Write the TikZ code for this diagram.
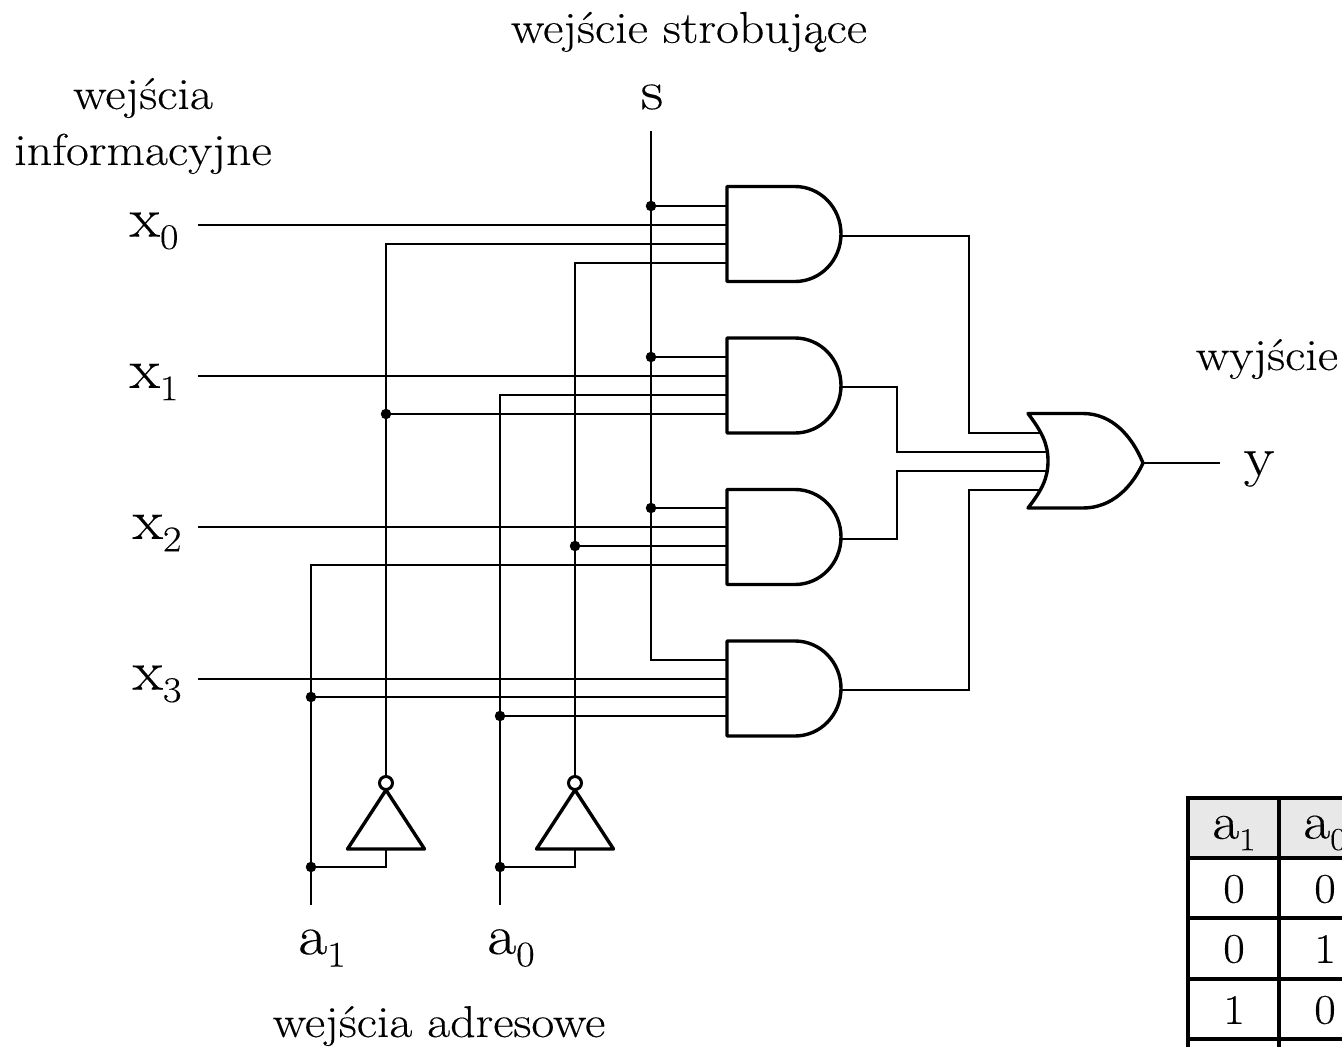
\documentclass[tikz,border=0pt]{standalone}
\usepackage{fontspec}
\setmainfont{Latin Modern Roman}[FakeStretch=1.12,FakeBold=0.25]
\usetikzlibrary{calc}
\newcommand{\subs}[2]{\raisebox{-0.22em}{\fontsize{#1}{#1}\selectfont #2}}
\tikzset{
  wire/.style={line width=2.2pt,line join=miter},
  gate/.style={draw,line width=3.4pt,line join=round,fill=white},
  jdot/.style={circle,fill=black,inner sep=0pt,minimum size=10.5pt},
  bubble/.style={circle,draw,line width=3pt,fill=white,inner sep=0pt,minimum size=13pt},
  lab/.style={inner sep=0pt,font=\fontsize{44.5}{56}\selectfont,align=center},
  sig/.style={inner sep=0pt,font=\fontsize{56}{60}\selectfont},
  head/.style={inner sep=0pt,font=\fontsize{52}{56}\selectfont},
  cell/.style={inner sep=0pt,font=\fontsize{42}{46}\selectfont},
  tab/.style={line width=3.4pt},
}
\newcommand{\inverter}[2]{%
  \path[gate] (#1,790) -- (#1-38.5,849) -- (#1+38.5,849) -- cycle;
  \node[bubble] (#2t) at (#1,783) {};
}
\begin{document}
\begin{tikzpicture}[x=1pt,y=-1pt]
\useasboundingbox (0,0) rectangle (1342,1047);
\clip (0,0) rectangle (1342,1047);
% signal labels
\node[sig] (x0) at (154,231) {x\subs{36}{0}};
\node[sig] (x1) at (154,382) {x\subs{36}{1}};
\node[sig] (x2) at (157,533) {x\subs{36}{2}};
\node[sig] (x3) at (157,684) {x\subs{36}{3}};
\node[sig] (s) at (652,97) {s};
\node[sig] (y) at (1259,469) {y};
\node[sig] (a1) at (322,948) {a\subs{36}{1}};
\node[sig] (a0) at (511,948) {a\subs{36}{0}};
\node[lab] (t1) at (689,32) {wejście strobujące};
\node[lab] (t2) at (143,126) {wejścia\\informacyjne};
\node[lab] (t3) at (1267,359) {wyjście};
\node[lab] (t4) at (439,1026) {wejścia adresowe};
% free wire ends
\coordinate (x0e) at (198,225);
\coordinate (x1e) at (198,376);
\coordinate (x2e) at (198,527);
\coordinate (x3e) at (198,679);
\coordinate (se) at (651,131);
\coordinate (a1e) at (311,905);
\coordinate (a0e) at (500,905);
\coordinate (ye) at (1220,463);
% gate pins
\coordinate (G1a) at (727,206);\coordinate (G1b) at (727,225);\coordinate (G1c) at (727,244);\coordinate (G1d) at (727,263);
\coordinate (G2a) at (727,357);\coordinate (G2b) at (727,376);\coordinate (G2c) at (727,395);\coordinate (G2d) at (727,414);
\coordinate (G3a) at (727,508);\coordinate (G3b) at (727,527);\coordinate (G3c) at (727,546);\coordinate (G3d) at (727,565);
\coordinate (G4a) at (727,660);\coordinate (G4b) at (727,679);\coordinate (G4c) at (727,697);\coordinate (G4d) at (727,716);
\coordinate (O1) at (1041,433);\coordinate (O2) at (1048,452);\coordinate (O3) at (1048,471);\coordinate (O4) at (1041,490);
\coordinate (G1o) at (841,236);\coordinate (G2o) at (841,387);\coordinate (G3o) at (841,539);\coordinate (G4o) at (841,690);
\coordinate (Oo) at (1143,463);
\coordinate (I1b) at (386,849);\coordinate (I2b) at (575,849);
\coordinate (I1a) at (386,783);\coordinate (I2a) at (575,783);
% wires
\draw[wire] (x0e) -- (G1b);
\draw[wire] (x1e) -- (G2b);
\draw[wire] (x2e) -- (G3b);
\draw[wire] (x3e) -- (G4b);
\draw[wire] (se) |- (G4a);
\draw[wire] (G1a -| se) -- (G1a);
\draw[wire] (G2a -| se) -- (G2a);
\draw[wire] (G3a -| se) -- (G3a);
\draw[wire] (I1a) |- (G1c);
\draw[wire] (G2d -| I1a) -- (G2d);
\draw[wire] (I2a) |- (G1d);
\draw[wire] (G3c -| I2a) -- (G3c);
\draw[wire] (a1e) |- (G3d);
\draw[wire] (G4c -| a1e) -- (G4c);
\draw[wire] (a0e) |- (G2c);
\draw[wire] (G4d -| a0e) -- (G4d);
\draw[wire] (I1b) |- (311,867);
\draw[wire] (I2b) |- (500,867);
\draw[wire] (G1o) -| (969,433) -- (O1);
\draw[wire] (G2o) -| (897,452) -- (O2);
\draw[wire] (G3o) -| (897,471) -- (O3);
\draw[wire] (G4o) -| (969,490) -- (O4);
\draw[wire] (Oo) -- (ye);
% junctions
\foreach \n/\p in {j1/{651,206},j2/{651,357},j3/{651,508},j4/{386,414},j5/{575,546},j6/{311,697},j7/{500,716},j8/{311,867},j9/{500,867}}
  \node[jdot] (\n) at (\p) {};
% gates
\foreach \t in {186.5,338,489.5,641}
  \path[gate] (727,\t) -- (795,\t) arc[start angle=-90,end angle=90,x radius=46,y radius=47.5] -- (727,\t+95) -- cycle;
\path[gate] (1028,413.5) -- (1083,413.5) .. controls (1112,413.5) and (1132,436) .. (1143,463)
  .. controls (1132,487) and (1112,508) .. (1083,508) -- (1028,508)
  .. controls (1042,490) and (1048,478) .. (1048,461) .. controls (1048,444) and (1042,432) .. (1028,413.5) -- cycle;
% inverters
\inverter{386}{I1}
\inverter{575}{I2}
% table
\fill[gray!18] (1188,798) rectangle (1342,858);
\draw[tab] (1188,1047) -- (1188,798) -- (1342,798);
\draw[tab] (1279,798) -- (1279,1047);
\foreach \yy in {858,918,979,1039} \draw[tab] (1188,\yy) -- (1342,\yy);
\node[head] (h1) at (1234,833) {a\subs{32}{1}};
\node[head] (h0) at (1325,833) {a\subs{32}{0}};
\node[cell] (c11) at (1234,889) {0};
\node[cell] (c12) at (1325,889) {0};
\node[cell] (c21) at (1234,949) {0};
\node[cell] (c22) at (1325,949) {1};
\node[cell] (c31) at (1234,1010) {1};
\node[cell] (c32) at (1325,1010) {0};
\end{tikzpicture}
\end{document}
